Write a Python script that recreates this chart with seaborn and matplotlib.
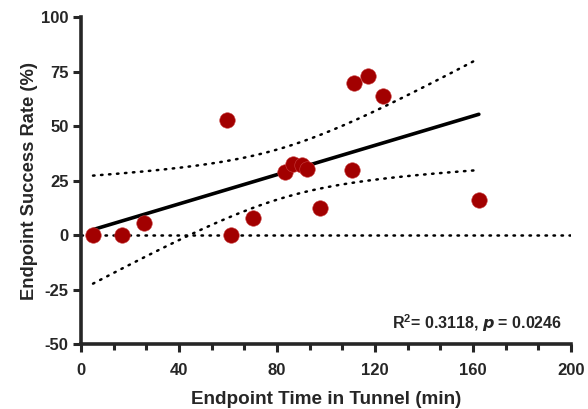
import numpy as np
import pandas as pd
import matplotlib
matplotlib.use("Agg")
import matplotlib.pyplot as plt
import seaborn as sns
from matplotlib.ticker import AutoMinorLocator

# Endpoint time in tunnel (min) and endpoint success rate (%) per subject
time_min = [4.9, 16.7, 25.7, 59.6, 61.2, 70.2, 83.3, 86.5, 90.2, 92.2,
            97.6, 110.6, 111.4, 117.1, 123.3, 162.4]
success_pct = [0.0, 0.0, 5.5, 52.8, 0.0, 7.8, 28.9, 32.6, 32.1, 30.3,
               12.4, 29.8, 69.7, 72.9, 63.8, 16.1]

x_ticks = [0, 40, 80, 120, 160, 200]
y_ticks = [-50, -25, 0, 25, 50, 75, 100]
stats_label = r"R$^{\mathbf{2}}$= 0.3118, $\boldsymbol{p}$ = 0.0246"

df = pd.DataFrame({"time": time_min, "success": success_pct})

# Linear fit with 95% confidence band of the regression line
x = df["time"].to_numpy()
y = df["success"].to_numpy()
n = len(x)
slope, intercept = np.polyfit(x, y, 1)
resid = y - (slope * x + intercept)
s_err = np.sqrt(np.sum(resid ** 2) / (n - 2))
t_crit = 2.1448  # two-sided 95%, df = 14
x_fit = np.linspace(x.min(), x.max(), 200)
y_fit = slope * x_fit + intercept
se_fit = s_err * np.sqrt(1 / n + (x_fit - x.mean()) ** 2 / np.sum((x - x.mean()) ** 2))
band = pd.DataFrame({"time": x_fit, "fit": y_fit,
                     "lo": y_fit - t_crit * se_fit, "hi": y_fit + t_crit * se_fit})

sns.set_style("ticks")
plt.rcParams["font.family"] = ["Liberation Sans", "DejaVu Sans"]
plt.rcParams["font.weight"] = "bold"
plt.rcParams["axes.unicode_minus"] = False
plt.rcParams["mathtext.fontset"] = "custom"
plt.rcParams["mathtext.rm"] = "Liberation Sans:bold"
plt.rcParams["mathtext.it"] = "Liberation Sans:italic:bold"
plt.rcParams["mathtext.bf"] = "Liberation Sans:bold"

fig = plt.figure(figsize=(5.88, 4.09), dpi=100)
ax = fig.add_axes([0.1378, 0.159, 0.8332, 0.799])

dot_style = dict(color="black", linewidth=1.8, linestyle=(0, (0.6, 2.6)),
                 dash_capstyle="round")

# zero reference line
ax.plot([0, 200], [0, 0], **dot_style, zorder=1)
sns.lineplot(data=band, x="time", y="lo", ax=ax, **dot_style, zorder=2)
sns.lineplot(data=band, x="time", y="hi", ax=ax, **dot_style, zorder=2)
sns.lineplot(data=band, x="time", y="fit", ax=ax, color="black",
             linewidth=2.6, zorder=3)
sns.scatterplot(data=df, x="time", y="success", ax=ax, color="#A20000",
                s=125, edgecolor="#C84040", linewidth=0.4, zorder=4)

ax.set_xlim(0, 200)
ax.set_ylim(-50, 100)
ax.set_xticks(x_ticks)
ax.set_yticks(y_ticks)
ax.xaxis.set_minor_locator(AutoMinorLocator(3))
ax.tick_params(axis="both", which="major", direction="out", length=6,
               width=2.2, labelsize=12)
ax.tick_params(axis="x", which="major", pad=8)
ax.tick_params(axis="y", which="major", pad=3)
ax.tick_params(axis="x", which="minor", direction="out", length=4, width=2.2)
for lab in ax.get_xticklabels() + ax.get_yticklabels():
    lab.set_fontweight("bold")

sns.despine(ax=ax)
for side in ("left", "bottom"):
    ax.spines[side].set_linewidth(2.6)
    ax.spines[side].set_capstyle("projecting")

ax.set_xlabel("Endpoint Time in Tunnel (min)", fontsize=13.6, fontweight="bold",
              labelpad=9)
ax.set_ylabel("Endpoint Success Rate (%)", fontsize=13.2, fontweight="bold",
              labelpad=2)

ax.text(196.5, -40.5, stats_label, ha="right", va="center", fontsize=11.5,
        fontweight="bold")

fig.savefig("out.png", dpi=100)
